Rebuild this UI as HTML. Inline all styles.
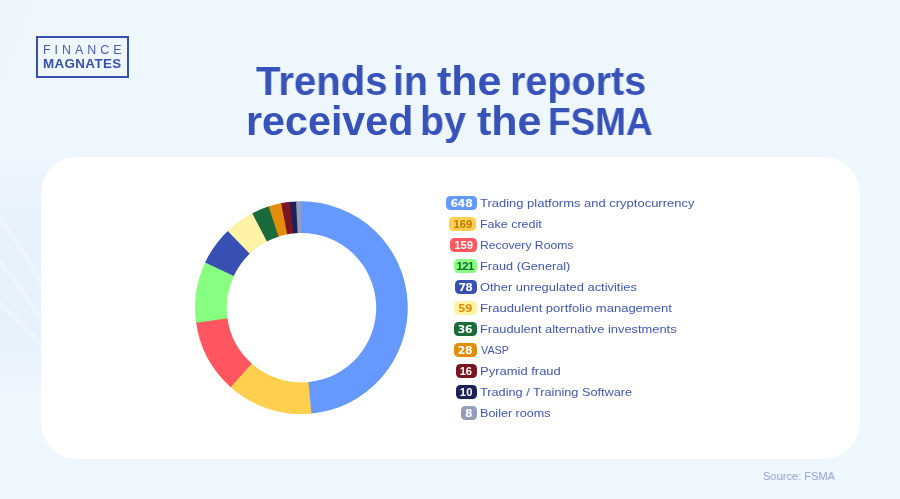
<!DOCTYPE html>
<html lang="en"><head><meta charset="utf-8"><title>Trends in the reports received by the FSMA</title>
<style>
html,body{margin:0;padding:0}
body{width:900px;height:499px;overflow:hidden;position:relative;background:#EEF6FE;-webkit-font-smoothing:antialiased;font-family:"Liberation Sans",sans-serif;color:#3A51B0}
.bg{position:absolute;left:0;top:0}
.logo{position:absolute;left:36px;top:36px;width:89px;height:38px;border:2px solid #3A50AE}
#logo1,#logo2{will-change:transform;position:absolute;transform-origin:0 0;white-space:nowrap;line-height:1;font-size:12.4px;color:#3A50AE}
#logo1{font-weight:400;color:#4A5FB4}
#logo2{font-weight:700}
h1{position:absolute;margin:0;left:0;top:0;width:900px;font-size:40.5px;line-height:40px;font-weight:700;color:#3752B8;white-space:nowrap}
h1 span{will-change:transform;position:absolute;display:block;transform-origin:0 0}
#t2w3{font-size:39px}
.card{position:absolute;left:41px;top:156.5px;width:818.5px;height:302.5px;background:#fff;border-radius:36px}
svg.donut{position:absolute;left:0;top:0}
ul{list-style:none;margin:0;padding:0}
li{position:absolute;left:0;height:14px;width:900px}
li .b{will-change:transform;position:absolute;top:0;height:14px;border-radius:4.4px;font-weight:700;text-align:center;white-space:nowrap}
li .dj{font-family:"DejaVu Sans","Liberation Sans",sans-serif;font-size:10.8px;line-height:16.1px}
li .lib{font-size:11.2px;line-height:14.4px}
li .t{will-change:transform;position:absolute;transform-origin:0 0;font-size:11.3px;line-height:16px;white-space:nowrap;color:#4056B0}
#row7{font-size:10.6px}
#src{margin:0;will-change:transform;position:absolute;transform-origin:0 0;font-size:11.8px;line-height:14px;color:#94A3D6;white-space:nowrap}
#r0{top:195.60px}#b0{left:445.8px;width:30.8px;background:#6699FF;color:#FFFFFF;letter-spacing:-0.175px;text-indent:0.125px}#row0{left:480.3px;top:-0.65px;letter-spacing:0px;transform:scaleX(1.1484)}
#r1{top:216.60px}#b1{left:449.3px;width:27.3px;background:#FFD050;color:#B87A00;letter-spacing:0.025px;text-indent:0.350px}#row1{left:480.1px;top:-0.65px;letter-spacing:0px;transform:scaleX(1.1045)}
#r2{top:237.60px}#b2{left:449.5px;width:27.1px;background:#FF5660;color:#FFFFFF;letter-spacing:-0.075px;text-indent:0.075px}#row2{left:480.1px;top:-0.65px;letter-spacing:0px;transform:scaleX(1.0788)}
#r3{top:258.60px}#b3{left:453.5px;width:23.1px;background:#88FF80;color:#0F6A33;letter-spacing:-0.45px;text-indent:-0.650px}#row3{left:480.1px;top:-0.65px;letter-spacing:0px;transform:scaleX(1.1238)}
#r4{top:279.60px}#b4{left:454.8px;width:21.8px;background:#3850B4;color:#FFFFFF;letter-spacing:-0.7px;text-indent:-1.075px}#row4{left:480.3px;top:-0.65px;letter-spacing:0px;transform:scaleX(1.1411)}
#r5{top:300.60px}#b5{left:454.1px;width:22.5px;background:#FFF4A6;color:#E08E10;letter-spacing:-0.45px;text-indent:-0.325px}#row5{left:480.1px;top:-0.65px;letter-spacing:0px;transform:scaleX(1.1526)}
#r6{top:321.60px}#b6{left:454.1px;width:22.5px;background:#1A6A3C;color:#FFFFFF;letter-spacing:-0.25px;text-indent:-0.500px}#row6{left:480.1px;top:-0.65px;letter-spacing:0px;transform:scaleX(1.1385)}
#r7{top:342.60px}#b7{left:453.8px;width:22.8px;background:#E38D0A;color:#FFFFFF;letter-spacing:-0.3px;text-indent:-0.900px}#row7{left:480.85px;top:-0.65px;letter-spacing:0px;transform:scaleX(1.0187)}
#r8{top:363.60px}#b8{left:456.0px;width:20.6px;background:#7C1522;color:#FFFFFF;letter-spacing:-0.3px;text-indent:-1.150px}#row8{left:480.1px;top:-0.65px;letter-spacing:0px;transform:scaleX(1.1491)}
#r9{top:384.60px}#b9{left:456.0px;width:20.6px;background:#1C2158;color:#FFFFFF;letter-spacing:0.2px;text-indent:-0.150px}#row9{left:480.3px;top:-0.65px;letter-spacing:0px;transform:scaleX(1.125)}
#r10{top:405.60px}#b10{left:460.9px;width:15.7px;background:#959DBE;color:#FFFFFF;letter-spacing:0px;text-indent:-0.150px}#row10{left:480.1px;top:-0.65px;letter-spacing:0px;transform:scaleX(1.1124)}
#t1w0{left:256.2px;top:61.1px;letter-spacing:0px;transform:scaleX(0.9908)}
#t1w1{left:393.05px;top:61.1px;letter-spacing:0px;transform:scaleX(0.9677)}
#t1w2{left:436.95px;top:61.1px;letter-spacing:0px;transform:scaleX(1.0615)}
#t1w3{left:509.65px;top:61.1px;letter-spacing:0px;transform:scaleX(0.9763)}
#t2w0{left:246.05px;top:101.1px;letter-spacing:0px;transform:scaleX(1.0188)}
#t2w1{left:419.7px;top:101.1px;letter-spacing:0px;transform:scaleX(0.972)}
#t2w2{left:477.0px;top:101.1px;letter-spacing:0px;transform:scaleX(1.0615)}
#t2w3{left:547.95px;top:101.7px;letter-spacing:0px;transform:scaleX(0.9476)}
#logo1{left:5.1px;top:6.45px;letter-spacing:4.012px;transform:scaleX(1)}
#logo2{left:5.35px;top:19.8px;letter-spacing:0.35px;transform:scaleX(1.0786)}
#src{left:762.85px;top:469.1px;letter-spacing:0px;transform:scaleX(0.9379)}
</style></head><body>
<svg class="bg" width="900" height="499" viewBox="0 0 900 499"><defs><linearGradient id="lg" x1="0" y1="0" x2="0" y2="1"><stop offset="0" stop-color="#E6F1FC" stop-opacity="0"/><stop offset=".3" stop-color="#E6F1FC" stop-opacity="1"/><stop offset=".75" stop-color="#E6F1FC" stop-opacity="1"/><stop offset="1" stop-color="#E6F1FC" stop-opacity="0"/></linearGradient></defs><rect x="0" y="160" width="60" height="230" fill="url(#lg)"/><g fill="none" stroke="#EDF5FE" stroke-width="5" opacity=".9"><path d="M-4 212C14 236 30 262 46 292"/><path d="M-4 258C12 276 28 298 46 326"/><path d="M-4 300C12 314 28 330 46 350"/></g><path d="M0 0H30C24 28 12 56 0 80Z" fill="#EAF3FD" opacity=".45"/></svg>
<div class="logo"><span id="logo1">FINANCE</span> <span id="logo2">MAGNATES</span></div>
<h1><span id="t1w0">Trends</span> <span id="t1w1">in</span> <span id="t1w2">the</span> <span id="t1w3">reports</span> <span id="t2w0">received</span> <span id="t2w1">by</span> <span id="t2w2">the</span> <span id="t2w3">FSMA</span></h1>
<div class="card"></div>
<svg class="donut" width="900" height="499" viewBox="0 0 900 499"><path fill="#6699FF" d="M300.29 201.31A106.4 106.4 0 0 1 310.30 413.73L307.65 382.14A74.7 74.7 0 0 0 300.62 233.00Z"/><path fill="#FFD050" d="M311.41 413.63A106.4 106.4 0 0 1 229.79 386.40L251.13 362.95A74.7 74.7 0 0 0 308.43 382.07Z"/><path fill="#FF5660" d="M230.62 387.14A106.4 106.4 0 0 1 195.91 321.59L227.34 317.45A74.7 74.7 0 0 0 251.71 363.47Z"/><path fill="#88FF80" d="M196.06 322.69A106.4 106.4 0 0 1 205.61 261.39L234.15 275.19A74.7 74.7 0 0 0 227.45 318.23Z"/><path fill="#3850B4" d="M205.13 262.40A106.4 106.4 0 0 1 228.56 230.14L250.26 253.25A74.7 74.7 0 0 0 233.81 275.89Z"/><path fill="#FFF4A6" d="M227.76 230.90A106.4 106.4 0 0 1 253.26 212.81L267.60 241.08A74.7 74.7 0 0 0 249.70 253.78Z"/><path fill="#1A6A3C" d="M252.27 213.32A106.4 106.4 0 0 1 269.76 206.11L279.19 236.38A74.7 74.7 0 0 0 266.91 241.44Z"/><path fill="#E38D0A" d="M268.70 206.45A106.4 106.4 0 0 1 282.19 203.05L287.92 234.23A74.7 74.7 0 0 0 278.44 236.62Z"/><path fill="#7C1522" d="M281.10 203.25A106.4 106.4 0 0 1 291.02 201.81L294.11 233.36A74.7 74.7 0 0 0 287.15 234.37Z"/><path fill="#1C2158" d="M289.91 201.92A106.4 106.4 0 0 1 297.13 201.39L298.40 233.06A74.7 74.7 0 0 0 293.33 233.44Z"/><path fill="#959DBE" d="M296.02 201.44A106.4 106.4 0 0 1 301.40 201.30L301.40 233.00A74.7 74.7 0 0 0 297.62 233.10Z"/></svg>
<ul>
<li id="r0"><span class="b dj" id="b0">648</span><span class="t" id="row0">Trading platforms and cryptocurrency</span></li>
<li id="r1"><span class="b lib" id="b1">169</span><span class="t" id="row1">Fake credit</span></li>
<li id="r2"><span class="b lib" id="b2">159</span><span class="t" id="row2">Recovery Rooms</span></li>
<li id="r3"><span class="b lib" id="b3">121</span><span class="t" id="row3">Fraud (General)</span></li>
<li id="r4"><span class="b dj" id="b4">78</span><span class="t" id="row4">Other unregulated activities</span></li>
<li id="r5"><span class="b dj" id="b5">59</span><span class="t" id="row5">Fraudulent portfolio management</span></li>
<li id="r6"><span class="b dj" id="b6">36</span><span class="t" id="row6">Fraudulent alternative investments</span></li>
<li id="r7"><span class="b dj" id="b7">28</span><span class="t" id="row7">VASP</span></li>
<li id="r8"><span class="b lib" id="b8">16</span><span class="t" id="row8">Pyramid fraud</span></li>
<li id="r9"><span class="b lib" id="b9">10</span><span class="t" id="row9">Trading / Training Software</span></li>
<li id="r10"><span class="b dj" id="b10">8</span><span class="t" id="row10">Boiler rooms</span></li>
</ul>
<p id="src">Source: FSMA</p>
</body></html>
